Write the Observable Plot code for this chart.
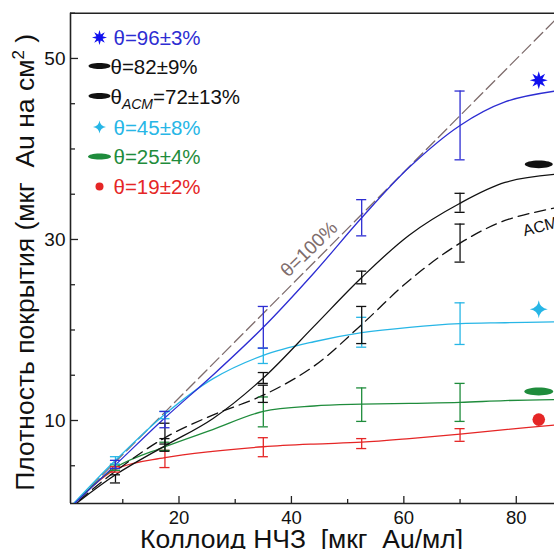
<!DOCTYPE html>
<html><head><meta charset="utf-8">
<script src="https://cdn.jsdelivr.net/npm/d3@7"></script>
<script src="https://cdn.jsdelivr.net/npm/@observablehq/plot@0.6"></script>
<style>
html,body{margin:0;padding:0;background:#fff;}
#chart{position:relative;width:554px;height:549px;overflow:hidden;}
svg text{white-space:pre;}
</style></head><body><div id="chart"></div>
<script>
// ---- data ----
const conc     = [0, 8.7, 17.5, 26, 35, 44, 52.5, 61, 70, 78, 87];
const fitBlue  = [0, 5.1, 10.3, 15.0, 20.3, 26.3, 32.4, 38.0, 42.6, 45.2, 46.4];
const fitBlack = [0, 4.0, 7.2, 10.2, 14.7, 20.4, 25.8, 30.5, 34.0, 36.3, 37.2];
const fitAcm   = [0, 4.4, 8.1, 10.6, 12.8, 16.0, 20.6, 25.5, 29.6, 32.1, 33.5];
const fitCyan  = [0, 5.6, 10.7, 14.6, 17.2, 18.7, 19.7, 20.3, 20.7, 20.8, 20.9];
const fitGreen = [0, 4.8, 7.1, 9.0, 11.0, 11.6, 11.8, 11.9, 12.0, 12.2, 12.3];
const fitRed   = [0, 4.6, 5.9, 6.6, 7.1, 7.4, 7.6, 8.0, 8.5, 9.0, 9.5];

const barX    = [8.7, 17.5, 35, 52.5, 70];
const blueLo  = [4.7, 9.2, 18.0, 30.4, 38.8];
const blueHi  = [5.6, 11.0, 22.6, 34.4, 46.4];
const blackLo = [3.1, 6.6, 14.1, 25.1, 33.0];
const blackHi = [4.0, 8.0, 15.3, 26.5, 35.1];
const acmX    = [17.5, 35, 52.5, 70];
const acmLo   = [7.4, 12.0, 18.5, 27.5];
const acmHi   = [9.7, 13.9, 22.6, 31.7];
const cyanLo  = [5.2, 10.2, 16.3, 18.1, 18.4];
const cyanHi  = [6.0, 11.0, 18.0, 21.4, 23.0];
const greenLo = [4.5, 6.7, 9.3, 9.9, 9.9];
const greenHi = [5.1, 7.6, 12.6, 13.6, 14.1];
const redLo   = [4.3, 4.8, 6.0, 6.9, 7.7];
const redHi   = [4.9, 6.7, 8.1, 8.0, 9.1];

const markerX  = 84;
const markerY  = [47.6, 38.3, 22.3, 13.2, 10.1]; // blue, black, cyan, green, red

const fullX = [0, 87];
const fullY = [0, 54.3];

const legendLabels = ["θ=96±3%", "θ=82±9%", "θACM=72±13%", "θ=45±8%", "θ=25±4%", "θ=19±2%"];
const xTickLabels = [20, 40, 60, 80];
const xMinor = [10, 30, 50, 70];
const yTickLabels = [10, 30, 50];
const yMinor = [5, 15, 20, 25, 35, 40, 45, 55];

const xDomain = [0.7, 86.8];
const yDomain = [0.83, 55];

// ---- styling ----
const C = {blue:"#2d2dd2", star:"#1010ee", black:"#111111", cyan:"#27b6e6", green:"#1f8c3c", red:"#e52626", full:"#7e6c6c"};
const W = 554, H = 549, ML = 70, MT = 12.7, MB = 46, MR = 0;
const FW = W - ML - MR, FH = H - MT - MB;

// custom symbols
const kap = 0.5523;
const ellipse = {draw(ctx, size){const r=Math.sqrt(size/Math.PI), rx=r, ry=r*0.27;
  ctx.moveTo(rx,0); ctx.bezierCurveTo(rx,ry*kap,rx*kap,ry,0,ry); ctx.bezierCurveTo(-rx*kap,ry,-rx,ry*kap,-rx,0);
  ctx.bezierCurveTo(-rx,-ry*kap,-rx*kap,-ry,0,-ry); ctx.bezierCurveTo(rx*kap,-ry,rx,-ry*kap,rx,0); ctx.closePath();}};
const star8 = {draw(ctx, size){const r=Math.sqrt(size/Math.PI), ri=r*0.45;
  for(let i=0;i<16;i++){const a=i*Math.PI/8 - Math.PI/2, rr=i%2?ri:r; const px=rr*Math.cos(a), py=rr*Math.sin(a); i?ctx.lineTo(px,py):ctx.moveTo(px,py);} ctx.closePath();}};
const star4 = {draw(ctx, size){const r=Math.sqrt(size/Math.PI), c=r*0.12;
  ctx.moveTo(0,-r); ctx.quadraticCurveTo(c,-c,r,0); ctx.quadraticCurveTo(c,c,0,r); ctx.quadraticCurveTo(-c,c,-r,0); ctx.quadraticCurveTo(-c,-c,0,-r); ctx.closePath();}};

const pts = (ys) => conc.map((x,i)=>({x, y: ys[i]}));
const bars = (xs, lo, hi) => xs.map((x,i)=>({x, lo: lo[i], hi: hi[i]}));
const capW = 0.9;
function errorBars(data, color){
  return [
    Plot.ruleX(data, {x:"x", y1:"lo", y2:"hi", stroke:color, strokeWidth:1.3}),
    Plot.ruleY(data, {y:"lo", x1:d=>d.x-capW, x2:d=>d.x+capW, stroke:color, strokeWidth:1.3}),
    Plot.ruleY(data, {y:"hi", x1:d=>d.x-capW, x2:d=>d.x+capW, stroke:color, strokeWidth:1.3})
  ];
}
function fitLine(ys, color, extra={}){
  return Plot.line(pts(ys), {x:"x", y:"y", stroke:color, strokeWidth:1.3, curve:"catmull-rom", clip:true, ...extra});
}

// legend
const legendRows = [38, 66.5, 96.5, 127.5, 157, 187];
const legendSym = [
  {symbol:star8, r:7.5, fill:C.star},
  {symbol:ellipse, r:11, fill:C.black},
  {symbol:ellipse, r:11, fill:C.black},
  {symbol:star4, r:6.5, fill:C.cyan},
  {symbol:ellipse, r:11.5, fill:C.green},
  {symbol:"circle", r:4, fill:C.red}
];
const legendColor = [C.blue, C.black, C.black, C.cyan, C.green, C.red];
const legendMarks = [];
legendLabels.forEach((lab,i)=>{
  const s = legendSym[i];
  legendMarks.push(Plot.dot([0], {frameAnchor:"top-left", dx:29, dy:legendRows[i]-MT-1, symbol:s.symbol, r:s.r, fill:s.fill, stroke:"none"}));
  legendMarks.push(Plot.text([lab], {text:d=>d, frameAnchor:"top-left", dx:(i===1||i===2)?40:43, dy:legendRows[i]-MT, textAnchor:"start", lineAnchor:"middle", fontSize:20.5, fill:legendColor[i]}));
});

const markerData = [
  {y: markerY[0], symbol: star8, r: 9, fill: C.star},
  {y: markerY[1], symbol: ellipse, r: 14, fill: C.black},
  {y: markerY[2], symbol: star4, r: 9, fill: C.cyan},
  {y: markerY[3], symbol: ellipse, r: 14.5, fill: C.green},
  {y: markerY[4], symbol: "circle", r: 6.3, fill: C.red}
];

const chart = Plot.plot({
  width: W, height: H, marginLeft: ML, marginTop: MT, marginBottom: MB, marginRight: MR,
  x: {domain: xDomain}, y: {domain: yDomain},
  style: {fontFamily: "Liberation Sans, Arial, sans-serif", background: "#fff", color: "#111"},
  marks: [
    // frame
    Plot.ruleX([xDomain[0]], {stroke:"#222", strokeWidth:1.6}),
    Plot.ruleY([yDomain[0]], {stroke:"#222", strokeWidth:1.6}),
    Plot.ruleY([yDomain[1]], {stroke:"#222", strokeWidth:1.6}),
    // inward ticks
    Plot.ruleX(xTickLabels, {x:d=>d, insetTop: FH-7, stroke:"#222", strokeWidth:1.3}),
    Plot.ruleX(xMinor, {x:d=>d, insetTop: FH-4, stroke:"#222", strokeWidth:1.3}),
    Plot.ruleY(yTickLabels, {y:d=>d, insetRight: FW-8, stroke:"#222", strokeWidth:1.3}),
    Plot.ruleY(yMinor, {y:d=>d, insetRight: FW-5, stroke:"#222", strokeWidth:1.3}),
    Plot.axisX({ticks: xTickLabels, tickSize: 0, tickPadding: 7, fontSize: 18.5, label: null, tickFormat: d=>String(d)}),
    Plot.axisY({ticks: yTickLabels, tickSize: 0, tickPadding: 5, fontSize: 19, label: null, tickFormat: d=>String(d)}),
    // theta = 100% line
    Plot.line(fullX.map((x,i)=>({x, y: fullY[i]})), {x:"x", y:"y", stroke:C.full, strokeWidth:1.3, strokeDasharray:"12,5", clip:true}),
    Plot.text(["θ=100%"], {x:(fullX[0]+fullX[1])/2, y:(fullY[0]+fullY[1])/2, text:d=>d, rotate:-44, dy:-16, dx:-2, fontSize:19, fill:C.full, lineAnchor:"middle"}),
    // fitted curves
    fitLine(fitRed, C.red),
    fitLine(fitGreen, C.green),
    fitLine(fitCyan, C.cyan),
    fitLine(fitAcm, C.black, {strokeDasharray:"11,6"}),
    fitLine(fitBlack, C.black),
    fitLine(fitBlue, C.blue),
    Plot.text(["ACM"], {x: markerX + 0.3, y: fitAcm[9] + (fitAcm[10]-fitAcm[9])*0.7, text:d=>d, rotate:-15, dy:15, fontSize:16, fill:C.black, lineAnchor:"middle"}),
    // error bars
    ...errorBars(bars(barX, redLo, redHi), C.red),
    ...errorBars(bars(barX, greenLo, greenHi), C.green),
    ...errorBars(bars(barX, cyanLo, cyanHi), C.cyan),
    ...errorBars(bars(acmX, acmLo, acmHi), C.black),
    ...errorBars(bars(barX, blackLo, blackHi), C.black),
    ...errorBars(bars(barX, blueLo, blueHi), C.blue),
    // markers
    ...markerData.map(m => Plot.dot([m], {x: () => markerX, y: "y", symbol: m.symbol, r: m.r, fill: m.fill, stroke: "none"})),
    // legend
    ...legendMarks,
    // axis titles
    Plot.text(["Коллоид НЧЗ  [мкг  Au/мл]"], {text:d=>d, frameAnchor:"bottom", textAnchor:"middle", dx:-11, dy:36, fontSize:26.5, fill:"#111", lineAnchor:"middle"}),
    Plot.text(["Плотность покрытия (мкг  Au на см2 )"], {text:d=>d, frameAnchor:"left", textAnchor:"middle", rotate:-90, dx:-45, dy:4, fontSize:26.5, fill:"#111", lineAnchor:"middle"})
  ]
});
document.getElementById("chart").appendChild(chart);

// rich text tweaks: subscript ACM in legend, superscript 2 in y title
d3.select(chart).selectAll("text").each(function(){
  const t = this.textContent;
  if (t === "θACM=72±13%") {
    const s = d3.select(this); s.text(null);
    s.append("tspan").text("θ");
    s.append("tspan").attr("dy", 5).attr("font-size", 14).attr("font-style", "italic").text("ACM");
    s.append("tspan").attr("dy", -5).text("=72±13%");
  } else if (t === "Плотность покрытия (мкг  Au на см2 )") {
    const s = d3.select(this); s.text(null);
    s.append("tspan").text("Плотность покрытия (мкг  Au на см");
    s.append("tspan").attr("dy", -10).attr("font-size", 17).text("2");
    s.append("tspan").attr("dy", 10).text(" )");
  }
});
</script>
</body></html>
